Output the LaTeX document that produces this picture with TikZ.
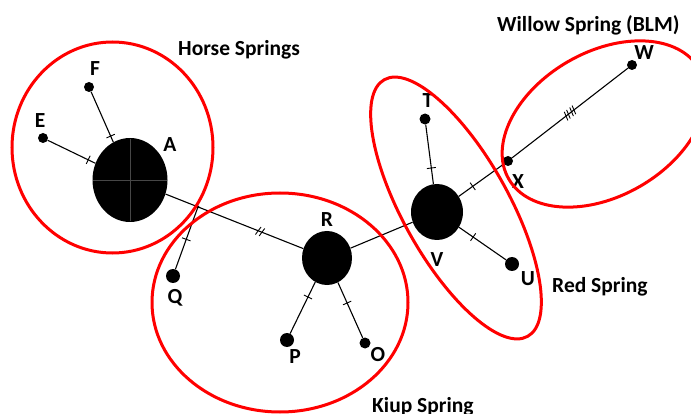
\documentclass[tikz,border=0pt]{standalone}
\usepackage{fontspec}
\setmainfont{Carlito}
\usetikzlibrary{shapes.geometric,decorations.markings,calc}

\tikzset{
  hub/.style={ellipse, fill=black, draw=none, inner sep=0pt},
  leaf/.style={circle, fill=black, draw=none, inner sep=0pt, minimum size=#1},
  lbl/.style={font=\fontsize{21.5}{24}\selectfont\bfseries, inner sep=0pt},
  link/.style={line width=1.1pt, black},
  group/.style={draw=red, line width=3pt},
  onetick/.style={decoration={markings,
      mark=at position #1 with {\draw[line width=0.9pt] (0,-4.5) -- (0,4.5);}},
    postaction={decorate}},
  twotick/.style={decoration={markings,
      mark=at position #1 with {\draw[line width=0.9pt]
        (-3.2,4.5) -- (-0.8,-4.5) (0.8,4.5) -- (3.2,-4.5);}},
    postaction={decorate}},
  fourtick/.style={decoration={markings,
      mark=at position #1 with {\draw[line width=0.9pt]
        (-6.2,4.5) -- (-3.8,-4.5) (-3.2,4.5) -- (-0.8,-4.5)
        (0.8,4.5) -- (3.2,-4.5) (3.8,4.5) -- (6.2,-4.5);}},
    postaction={decorate}},
}

\begin{document}
\begin{tikzpicture}[x=1pt, y=-1pt]
\useasboundingbox (0,0) rectangle (691,414);

% haplotype nodes
\node[hub, minimum width=75, minimum height=84] (A) at (130,180) {};
\node[hub, minimum width=50, minimum height=54] (R) at (327,258) {};
\node[hub, minimum width=52, minimum height=56] (V) at (437,212) {};
\node[leaf=10] (E) at (43,138) {};
\node[leaf=10] (F) at (89,87) {};
\node[leaf=14] (Q) at (173,276) {};
\node[leaf=14] (P) at (287,340) {};
\node[leaf=11] (O) at (365,343) {};
\node[leaf=11] (T) at (425,119) {};
\node[leaf=14] (U) at (512,264) {};
\node[leaf=10] (X) at (508,161) {};
\node[leaf=10] (W) at (632,65) {};
\coordinate (J) at ($(A)!0.345!(R)$);

% faint cross inside A
\draw[black!72!white, line width=0.45pt] ($(A.west)+(1,0)$) -- ($(A.east)+(-1,0)$)
  ($(A.north)+(0,1)$) -- ($(A.south)+(0,-1)$);

% connectors with mutation ticks
\draw[link, onetick=0.85] (E) -- (A);
\draw[link, onetick=0.88] (F) -- (A);
\draw[link, twotick=0.686] (A) -- (R);
\draw[link, onetick=0.48] (Q) -- (J);
\fill (J) circle (1.6);
\draw[link, onetick=0.71] (P) -- (R);
\draw[link, onetick=0.63] (O) -- (R);
\draw[link] (R) -- (V);
\draw[link, onetick=0.73] (T) -- (V);
\draw[link, onetick=0.30] (V) -- (U);
\draw[link, onetick=0.31] (V) -- (X);
\draw[link, fourtick=0.5] (X) -- (W);

% node labels
\node[lbl] (lA) at (170,145) {A};
\node[lbl] (lE) at (40,121) {E};
\node[lbl] (lF) at (95,69) {F};
\node[lbl] (lQ) at (175,298) {Q};
\node[lbl] (lR) at (327,220) {R};
\node[lbl] (lP) at (295,357) {P};
\node[lbl] (lO) at (378,355) {O};
\node[lbl] (lT) at (428,101) {T};
\node[lbl] (lV) at (437,260) {V};
\node[lbl] (lU) at (528,279) {U};
\node[lbl] (lX) at (518,182) {X};
\node[lbl] (lW) at (644,53) {W};

% spring groupings
\draw[group] (112.5,147.5) ellipse [x radius=100.5, y radius=105.5];
\draw[group] (280,302.5) ellipse [x radius=128, y radius=109.5];
\draw[group, rotate around={-60.8:(456,208)}] (456,208) ellipse [x radius=147, y radius=53];
\draw[group, rotate around={30:(604,124)}] (604,124) ellipse [x radius=110, y radius=72];

% group titles
\node[lbl, anchor=base west] (tHorse) at (178,56) {Horse Springs};
\node[lbl, anchor=base west] (tWillow) at (497,32) {Willow Spring (BLM)};
\node[lbl, anchor=base west] (tRed) at (552,292) {Red Spring};
\node[lbl, anchor=base west] (tKiup) at (372,412) {Kiup Spring};
\end{tikzpicture}
\end{document}
